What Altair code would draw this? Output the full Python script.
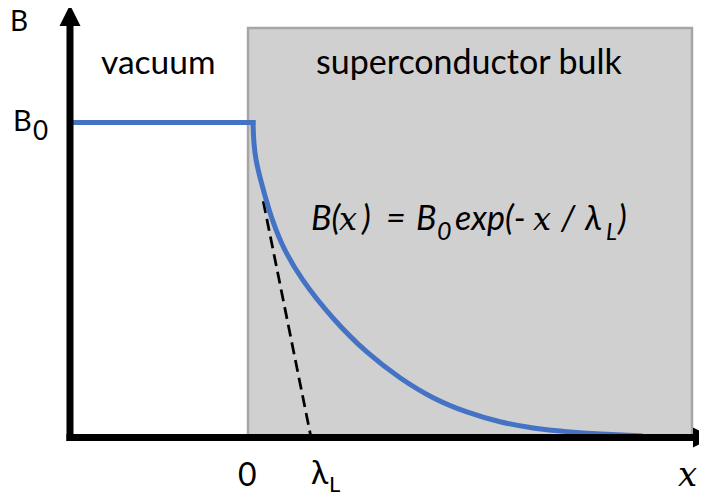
import altair as alt
import pandas as pd

# ---- data (x in units of lambda_L, B in units of B0) ----
vac_x = [-3.059, 0.017]
vac_b = [1.0, 1.0]

curve_x = [0.017, 0.029, 0.064, 0.129, 0.281, 0.479, 0.807, 1.361, 1.933, 2.487,
           3.042, 3.613, 4.168, 4.723, 5.294, 5.849, 6.521]
curve_b = [1.0, 0.934, 0.881, 0.828, 0.722, 0.617, 0.506, 0.3746, 0.2667, 0.1873,
           0.123, 0.079, 0.048, 0.029, 0.018, 0.011, 0.0054]

tangent_x = [0.189, 0.992]
tangent_b = [0.75, 0.0]

bulk_x = [-0.067, 7.395]
bulk_b = [0.0, 1.2999]

normal_text = ["B", "vacuum", "superconductor bulk", "B", "0", "0", "λ", "L"]
normal_x = [-4.067, -2.538, 1.076, -4.017, -3.680, -0.235, 0.992, 1.294]
normal_y = [1.29, 1.154, 1.154, 0.9746, 0.9444, -0.154, -0.1476, -0.173]
normal_size = [28, 33.5, 34, 29, 26, 32, 32, 22]

formula_text = ["B(", ")", "=", "B", "0", "exp(-", "/", "λ", "L", ")"]
formula_x = [0.992, 1.849, 2.252, 2.756, 3.109, 3.412, 5.193, 5.597, 5.950, 6.151]
formula_y = [0.660, 0.660, 0.660, 0.660, 0.627, 0.660, 0.660, 0.660, 0.627, 0.660]
formula_size = [34, 34, 34, 34, 25, 34, 34, 34, 23, 34]

serif_text = ["x", "x", "x"]
serif_x = [1.462, 4.723, 7.160]
serif_y = [0.660, 0.660, -0.154]
serif_size = [32, 32, 34]

# ---- scales ----
W, H = 691, 485
xs = alt.Scale(domain=[-4.1008, 7.5126], nice=False, zero=False)
ys = alt.Scale(domain=[-0.17619, 1.36349], nice=False, zero=False)


def X(f):
    return alt.X(f, type="quantitative", scale=xs, axis=None)


def Y(f):
    return alt.Y(f, type="quantitative", scale=ys, axis=None)


bulk = alt.Chart(pd.DataFrame({"x": [bulk_x[0]], "x2": [bulk_x[1]],
                               "y": [bulk_b[0]], "y2": [bulk_b[1]]})).mark_rect(
    fill="#d0d0d0", stroke="#a6a6a6", strokeWidth=2.5
).encode(x=X("x"), x2="x2", y=Y("y"), y2="y2")

tangent = alt.Chart(pd.DataFrame({"x": tangent_x, "b": tangent_b})).mark_line(
    color="black", strokeWidth=2.75, strokeDash=[12, 6]
).encode(x=X("x"), y=Y("b"))

vacuum_line = alt.Chart(pd.DataFrame({"x": vac_x, "b": vac_b})).mark_line(
    color="#4472c4", strokeWidth=5, strokeCap="square"
).encode(x=X("x"), y=Y("b"))

curve = alt.Chart(pd.DataFrame({"x": curve_x, "b": curve_b,
                                "i": list(range(len(curve_x)))})).mark_line(
    color="#4472c4", strokeWidth=5, strokeCap="square", interpolate="basis"
).encode(x=X("x"), y=Y("b"), order="i:Q")

xaxis = alt.Chart(pd.DataFrame({"x": [-3.118], "x2": [7.429], "y": [0.0]})).mark_rule(
    color="black", strokeWidth=7
).encode(x=X("x"), x2="x2", y=Y("y"))

yaxis = alt.Chart(pd.DataFrame({"x": [-3.059], "y": [-0.011], "y2": [1.3095]})).mark_rule(
    color="black", strokeWidth=7
).encode(x=X("x"), y=Y("y"), y2="y2")

up_head = alt.Chart(pd.DataFrame({"x": [-3.059], "y": [1.3397]})).mark_point(
    shape="M0,-1L1,1L-1,1Z", size=441, filled=True, color="black", opacity=1, strokeWidth=0
).encode(x=X("x"), y=Y("y"))

right_head = alt.Chart(pd.DataFrame({"x": [7.580], "y": [0.0]})).mark_point(
    shape="M1,0L-1,1L-1,-1Z", size=400, filled=True, color="black", opacity=1, strokeWidth=0
).encode(x=X("x"), y=Y("y"))

labels = alt.Chart(pd.DataFrame({"t": normal_text, "x": normal_x, "y": normal_y,
                                 "s": normal_size})).mark_text(
    align="left", baseline="alphabetic", font="Lato", color="black"
).encode(x=X("x"), y=Y("y"), text="t:N", size=alt.Size("s:Q", scale=None))

formula = alt.Chart(pd.DataFrame({"t": formula_text, "x": formula_x, "y": formula_y,
                                  "s": formula_size})).mark_text(
    align="left", baseline="alphabetic", font="Lato", fontStyle="italic", color="black"
).encode(x=X("x"), y=Y("y"), text="t:N", size=alt.Size("s:Q", scale=None))

serif = alt.Chart(pd.DataFrame({"t": serif_text, "x": serif_x, "y": serif_y,
                                "s": serif_size})).mark_text(
    align="left", baseline="alphabetic", font="DejaVu Serif", fontStyle="italic",
    color="black"
).encode(x=X("x"), y=Y("y"), text="t:N", size=alt.Size("s:Q", scale=None))

chart = alt.layer(
    bulk, tangent, vacuum_line, curve, xaxis, yaxis, up_head, right_head,
    labels, formula, serif
).properties(
    width=W, height=H, autosize="none", padding=0, background="white"
).configure_view(stroke=None)

chart.save("out.html", embed_options={"renderer": "svg", "actions": False})
